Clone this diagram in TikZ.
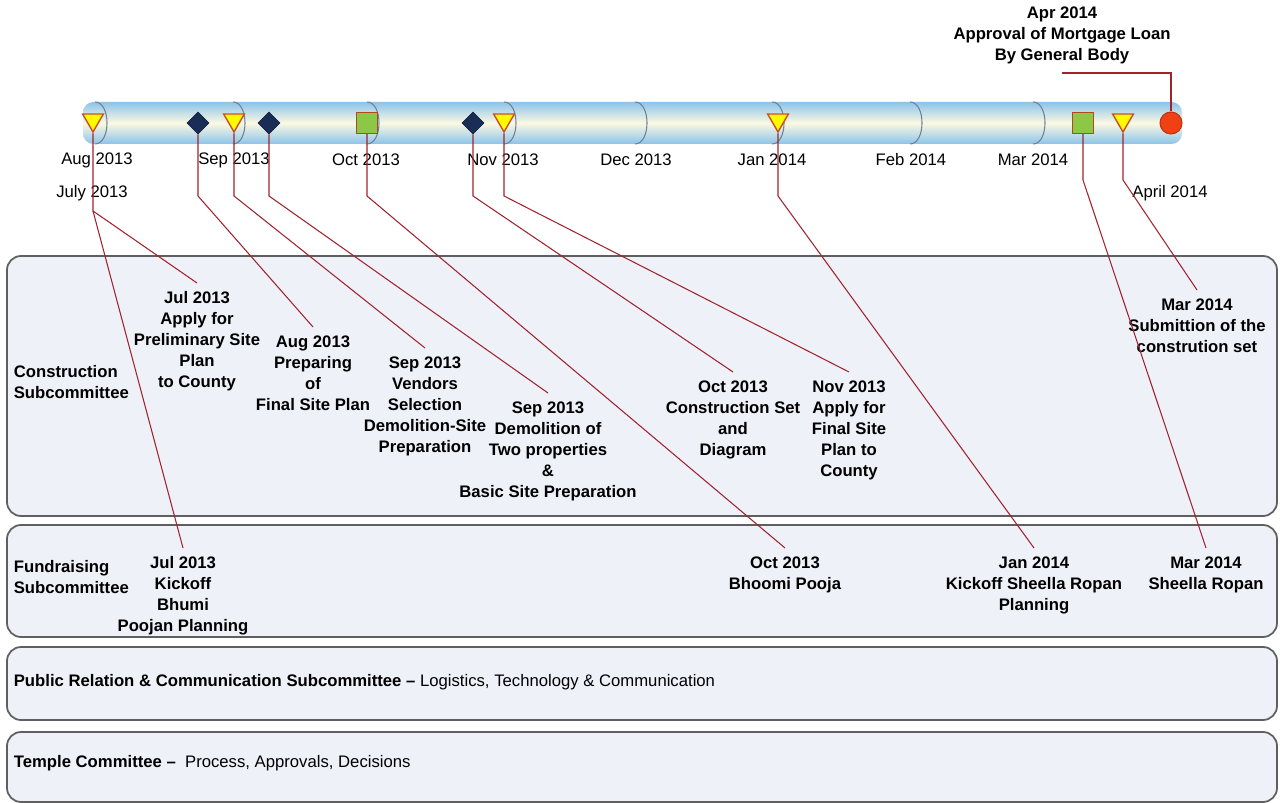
\documentclass[tikz,border=0pt]{standalone}
\usepackage{fontspec}
\setmainfont{Liberation Sans}
\usetikzlibrary{shapes.geometric}
\definecolor{barblue}{RGB}{140,195,235}
\definecolor{barcream}{RGB}{252,249,226}
\definecolor{divgray}{RGB}{110,130,150}
\definecolor{leadred}{RGB}{160,35,45}
\definecolor{triyellow}{RGB}{255,250,0}
\definecolor{triedge}{RGB}{200,80,40}
\definecolor{navy}{RGB}{25,45,85}
\definecolor{sqgreen}{RGB}{140,200,70}
\definecolor{sqedge}{RGB}{180,70,40}
\definecolor{circred}{RGB}{240,65,20}
\definecolor{circedge}{RGB}{190,50,20}
\definecolor{lanefill}{RGB}{238,241,248}
\definecolor{lanegray}{RGB}{95,95,95}

\tikzset{
  lane/.style={draw=lanegray,line width=1pt,fill=lanefill,rounded corners=8pt},
  leader/.style={draw=leadred,line width=0.6pt},
  divider/.style={draw=divgray,line width=0.6pt},
  monthlabel/.style={font=\fontsize{9.5}{11.9}\selectfont,inner sep=1pt},
  evlabel/.style={font=\fontsize{9.5}{11.9}\selectfont\bfseries,align=center,anchor=north,inner sep=2pt,outer sep=3pt},
  lanetitle/.style={font=\fontsize{9.5}{11.9}\selectfont,align=left,anchor=west,inner sep=2pt},
  markTri/.style={regular polygon,regular polygon sides=3,shape border rotate=180,fill=triyellow,draw=triedge,line width=0.8pt,minimum size=0.48cm,inner sep=0pt},
  markDia/.style={diamond,fill=navy,draw=navy!80!black,minimum width=0.44cm,minimum height=0.44cm,inner sep=0pt},
  markSq/.style={rectangle,fill=sqgreen,draw=sqedge,line width=0.8pt,minimum size=0.42cm,inner sep=0pt},
  markDot/.style={circle,fill=circred,draw=circedge,line width=0.6pt,minimum size=0.44cm,inner sep=0pt}
}

\begin{document}
\begin{tikzpicture}[x=0.02cm,y=-0.02cm]
\useasboundingbox (0,0) rectangle (1281,803);

% Swimlanes
\draw[lane] (7,256) rectangle (1277,516);
\draw[lane] (7,525) rectangle (1277,637);
\draw[lane] (7,647) rectangle (1277,720);
\draw[lane] (7,732) rectangle (1277,802);

\node[lanetitle,font=\fontsize{9.5}{11.9}\selectfont\bfseries] (tBuild) at (10,382) {Construction\\Subcommittee};
\node[lanetitle,font=\fontsize{9.5}{11.9}\selectfont\bfseries] (tFund) at (10,577) {Fundraising\\Subcommittee};
\node[lanetitle] (tPR) at (10,682) {\textbf{Public Relation \& Communication Subcommittee –} Logistics, Technology \& Communication};
\node[lanetitle] (tTemple) at (10,763) {\textbf{Temple Committee –}\ \ Process, Approvals, Decisions};

% Timeline bar
\shade[top color=barblue,bottom color=barblue,middle color=barcream,rounded corners=6pt] (83,102) rectangle (1182,144);
\foreach \dx in {95,233,367,504,635,772,910,1033}
  \draw[divider] (\dx,102) .. controls (\dx+16,102) and (\dx+16,144) .. (\dx,144);

% Month labels
\node[monthlabel] (aug) at (97,160) {Aug 2013};
\node[monthlabel] (sep) at (234,160) {Sep 2013};
\node[monthlabel] (oct) at (366,160) {Oct 2013};
\node[monthlabel] (nov) at (503,160) {Nov 2013};
\node[monthlabel] (dec) at (636,160) {Dec 2013};
\node[monthlabel] (jan) at (772,160) {Jan 2014};
\node[monthlabel] (feb) at (911,160) {Feb 2014};
\node[monthlabel] (mar) at (1033,160) {Mar 2014};
\node[monthlabel] (july) at (92,193) {July 2013};
\node[monthlabel] (april) at (1170,193) {April 2014};

% Milestone markers
\node[markTri] (mJul) at (93,120) {};
\node[markDia] (mAug) at (198,123) {};
\node[markTri] (mVend) at (234,120) {};
\node[markDia] (mDemo) at (269,123) {};
\node[markSq] (mPooja) at (367,123) {};
\node[markDia] (mCset) at (473,123) {};
\node[markTri] (mFinal) at (504,120) {};
\node[markTri] (mKick) at (778,120) {};
\node[markSq] (mRopan) at (1083,123) {};
\node[markTri] (mSubmit) at (1123,120) {};
\node[markDot] (mLoan) at (1171,123) {};

% Event labels
\node[evlabel] (lJulA) at (197,283) {Jul 2013\\Apply for\\Preliminary Site\\Plan\\to County};
\node[evlabel] (lAug) at (313,327) {Aug 2013\\Preparing\\of\\Final Site Plan};
\node[evlabel] (lVend) at (425,348) {Sep 2013\\Vendors\\Selection\\Demolition-Site\\Preparation};
\node[evlabel] (lDemo) at (548,393) {Sep 2013\\Demolition of\\Two properties\\\&\\Basic Site Preparation};
\node[evlabel] (lCset) at (733,372) {Oct 2013\\Construction Set\\and\\Diagram};
\node[evlabel] (lFinal) at (849,372) {Nov 2013\\Apply for\\Final Site\\Plan to\\County};
\node[evlabel] (lSubmit) at (1197,290) {Mar 2014\\Submittion of the\\constrution set};
\node[evlabel] (lJulB) at (183,548) {Jul 2013\\Kickoff\\Bhumi\\Poojan Planning};
\node[evlabel] (lPooja) at (785,548) {Oct 2013\\Bhoomi Pooja};
\node[evlabel] (lKick) at (1034,548) {Jan 2014\\Kickoff Sheella Ropan\\Planning};
\node[evlabel] (lRopan) at (1206,548) {Mar 2014\\Sheella Ropan};
\node[evlabel,anchor=south] (lLoan) at (1062,73) {Apr 2014\\Approval of Mortgage Loan\\By General Body};

% Leaders
\coordinate (kneeLow) at (0,211);
\coordinate (kneeMid) at (0,196);
\coordinate (kneeHigh) at (0,180);
\draw[leader] (mJul.south) -- (mJul |- kneeLow) -- (lJulA.north);
\draw[leader] (mJul |- kneeLow) -- (lJulB.north);
\draw[leader] (mAug.south) -- (mAug |- kneeMid) -- (lAug.north);
\draw[leader] (mVend.south) -- (mVend |- kneeMid) -- (lVend.north);
\draw[leader] (mDemo.south) -- (mDemo |- kneeMid) -- (lDemo.north);
\draw[leader] (mPooja.south) -- (mPooja |- kneeMid) -- (lPooja.north);
\draw[leader] (mCset.south) -- (mCset |- kneeMid) -- (lCset.north);
\draw[leader] (mFinal.south) -- (mFinal |- kneeMid) -- (lFinal.north);
\draw[leader] (mKick.south) -- (mKick |- kneeMid) -- (lKick.north);
\draw[leader] (mRopan.south) -- (mRopan |- kneeHigh) -- (lRopan.north);
\draw[leader] (mSubmit.south) -- (mSubmit |- kneeHigh) -- (lSubmit.north);
\draw[leader] (mLoan.north) |- (lLoan.south);
\end{tikzpicture}
\end{document}
